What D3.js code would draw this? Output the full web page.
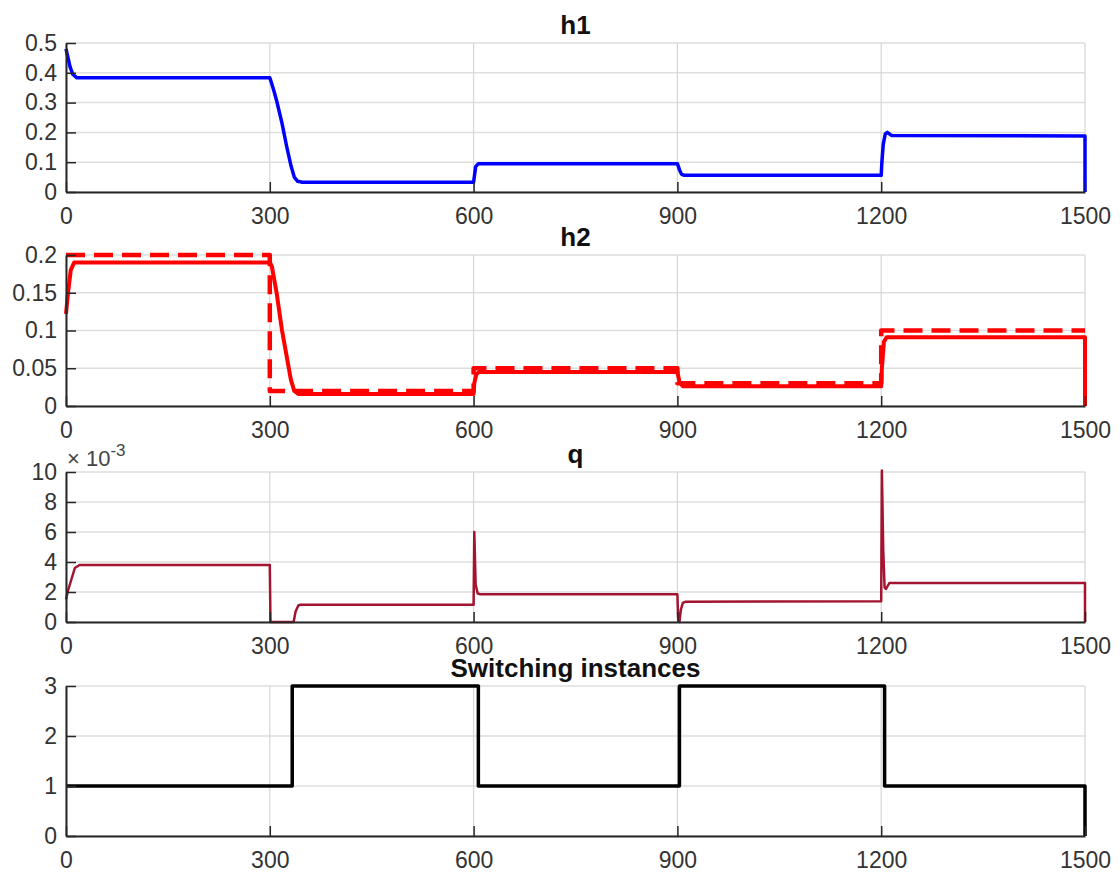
<!DOCTYPE html>
<html>
<head>
<meta charset="utf-8">
<script src="https://cdn.jsdelivr.net/npm/d3@7"></script>
<style>
  body { margin: 0; background: #fff; }
  svg text { font-family: "Liberation Sans", Arial, sans-serif; }
</style>
</head>
<body>
<svg id="chart" width="1120" height="875"></svg>
<script>
// time axis
const x_ticks = [0, 300, 600, 900, 1200, 1500];

// h1
const h1_t = [0, 3, 6, 10, 16, 300, 302, 306, 310, 318, 325, 331, 336, 341, 348, 600, 601, 603, 607, 900, 903, 906, 910, 1200, 1201, 1203, 1206, 1209, 1215, 1500, 1500];
const h1_v = [0.48, 0.45, 0.42, 0.395, 0.383, 0.383, 0.37, 0.34, 0.307, 0.23, 0.151, 0.09, 0.05, 0.036, 0.033, 0.033, 0.05, 0.085, 0.095, 0.095, 0.075, 0.06, 0.056, 0.056, 0.1, 0.16, 0.195, 0.2, 0.19, 0.188, 0];
const h1_ticks = [0, 0.1, 0.2, 0.3, 0.4, 0.5];

// h2 (solid) and its reference (dashed)
const h2_t = [0, 3, 7, 12, 300, 303, 306, 310, 318, 325, 331, 336, 342, 350, 600, 601, 604, 608, 900, 903, 908, 1200, 1201, 1204, 1208, 1500, 1500];
const h2_v = [0.122, 0.15, 0.18, 0.19, 0.19, 0.185, 0.17, 0.15, 0.1, 0.065, 0.035, 0.02, 0.016, 0.016, 0.016, 0.03, 0.042, 0.045, 0.045, 0.032, 0.026, 0.026, 0.05, 0.085, 0.091, 0.091, 0];
const h2_ref_t = [0, 300, 300, 600, 600, 900, 900, 1200, 1200, 1500];
const h2_ref_v = [0.2, 0.2, 0.02, 0.02, 0.05, 0.05, 0.03, 0.03, 0.1, 0.1];
const h2_ticks = [0, 0.05, 0.1, 0.15, 0.2];

// q
const q_t = [0, 3, 9, 13, 20, 300, 301, 335, 338, 342, 345, 600, 601, 603, 606, 610, 900, 901, 903, 905, 908, 912, 1200, 1201, 1203, 1205, 1207, 1212, 1500, 1500];
const q_v = [0.0015, 0.0021, 0.003, 0.0036, 0.0038, 0.0038, 0, 0, 0.0007, 0.0011, 0.00115, 0.00115, 0.006, 0.0025, 0.0019, 0.00185, 0.00185, 0.0003, 0, 0.0008, 0.00128, 0.00135, 0.00138, 0.0101, 0.0048, 0.0023, 0.0022, 0.0026, 0.0026, 0];
const q_ticks = [0, 0.002, 0.004, 0.006, 0.008, 0.01];

// switching instances
const sw_t = [0, 333, 333, 607, 607, 903, 903, 1205, 1205, 1500, 1500];
const sw_v = [1, 1, 3, 3, 1, 1, 3, 3, 1, 1, 0];
const sw_ticks = [0, 1, 2, 3];

const zip = (t, v) => t.map((d, i) => ({ t: d, v: v[i] }));

const panels = [
  { title: 'h1', top: 43, bottom: 192, ticks: h1_ticks, fmt: d => d,
    lines: [ { data: zip(h1_t, h1_v), color: '#0000ff', width: 3.5 } ] },
  { title: 'h2', top: 255, bottom: 406, ticks: h2_ticks, fmt: d => d,
    lines: [
      { data: zip(h2_t, h2_v), color: '#ff0000', width: 4 },
      { data: zip(h2_ref_t, h2_ref_v), color: '#ff0000', width: 4.5, dash: '19,9' }
    ] },
  { title: 'q', top: 472, bottom: 622, ticks: q_ticks, fmt: d => Math.round(d * 1000), exponent: true,
    lines: [ { data: zip(q_t, q_v), color: '#a2142f', width: 2.5 } ] },
  { title: 'Switching instances', top: 686, bottom: 836, ticks: sw_ticks, fmt: d => d,
    lines: [ { data: zip(sw_t, sw_v), color: '#000000', width: 3.5 } ] }
];

const svg = d3.select('#chart');
const x_scale = d3.scaleLinear().domain([0, 1500]).range([66, 1085]);

panels.forEach(p => {
  const y_scale = d3.scaleLinear()
    .domain([0, d3.max(p.ticks)])
    .range([p.bottom, p.top]);
  const g = svg.append('g');

  // grid
  g.selectAll('line.hgrid')
    .data(p.ticks)
    .enter()
    .append('line')
    .attr('x1', x_scale.range()[0]).attr('x2', x_scale.range()[1])
    .attr('y1', d => y_scale(d)).attr('y2', d => y_scale(d))
    .attr('stroke', '#dedede').attr('stroke-width', 1.5);
  g.selectAll('line.vgrid')
    .data(x_ticks)
    .enter()
    .append('line')
    .attr('x1', d => x_scale(d)).attr('x2', d => x_scale(d))
    .attr('y1', p.top).attr('y2', p.bottom)
    .attr('stroke', '#d6d6d6').attr('stroke-width', 1.2);

  // data lines
  p.lines.forEach(l => {
    g.append('path')
      .datum(l.data)
      .attr('fill', 'none')
      .attr('stroke', l.color)
      .attr('stroke-width', l.width)
      .attr('stroke-linejoin', 'round')
      .attr('stroke-dasharray', l.dash || null)
      .attr('d', d3.line().x(d => x_scale(d.t)).y(d => y_scale(d.v)));
  });

  // axes with inward ticks
  const y_axis = d3.axisLeft(y_scale).tickValues(p.ticks).tickFormat(p.fmt).tickSizeInner(-10).tickSizeOuter(0).tickPadding(9);
  const x_axis = d3.axisBottom(x_scale).tickValues(x_ticks).tickFormat(d => d).tickSizeInner(-10).tickSizeOuter(0).tickPadding(16);

  [g.append('g').attr('transform', `translate(${x_scale.range()[0]},0)`).call(y_axis),
   g.append('g').attr('transform', `translate(0,${p.bottom})`).call(x_axis)]
    .forEach(a => {
      a.select('.domain').attr('stroke', '#262626').attr('stroke-width', 2);
      a.selectAll('.tick line').attr('stroke', '#262626').attr('stroke-width', 1.5);
      a.selectAll('.tick text')
        .attr('fill', '#333')
        .style('font-size', '23px');
    });

  // title
  g.append('text')
    .text(p.title)
    .attr('x', (x_scale.range()[0] + x_scale.range()[1]) / 2)
    .attr('y', p.top - 9)
    .attr('text-anchor', 'middle')
    .attr('font-weight', 'bold')
    .attr('font-size', 26)
    .attr('fill', '#111');

  if (p.exponent) {
    const ex = g.append('text')
      .attr('x', 67)
      .attr('y', p.top - 6)
      .attr('font-size', 22)
      .attr('fill', '#444');
    ex.append('tspan').text('\u00d7 10');
    ex.append('tspan').text('-3').attr('dy', -10).attr('font-size', 17);
  }
});
</script>
</body>
</html>
